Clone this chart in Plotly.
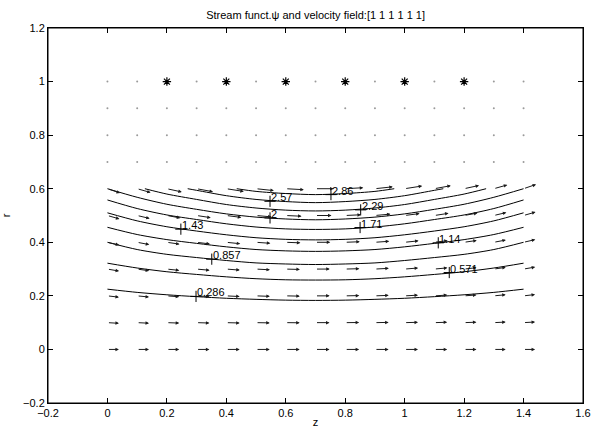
import plotly.graph_objects as go

# ---------------- data ----------------
z_grid = [0.0, 0.1, 0.2, 0.3, 0.4, 0.5, 0.6, 0.7, 0.8, 0.9, 1.0, 1.1, 1.2, 1.3, 1.4]
r_arrow_rows = [0.0, 0.1, 0.2, 0.3, 0.4, 0.5, 0.6]
r_dot_rows = [0.7, 0.8, 0.9, 1.0]

# velocity components (arbitrary units) per row r=0..0.6, columns z=0..1.4
U_rows = [
    [1.00, 1.03, 1.07, 1.11, 1.16, 1.19, 1.21, 1.22, 1.21, 1.19, 1.16, 1.11, 1.07, 1.03, 1.00],
    [1.00, 1.03, 1.07, 1.11, 1.16, 1.19, 1.21, 1.22, 1.21, 1.19, 1.16, 1.11, 1.07, 1.03, 1.00],
    [1.00, 1.03, 1.07, 1.12, 1.16, 1.20, 1.22, 1.23, 1.22, 1.20, 1.16, 1.12, 1.07, 1.03, 1.00],
    [1.01, 1.04, 1.08, 1.13, 1.17, 1.21, 1.23, 1.24, 1.23, 1.21, 1.17, 1.13, 1.08, 1.04, 1.01],
    [1.02, 1.05, 1.10, 1.16, 1.21, 1.24, 1.27, 1.28, 1.27, 1.24, 1.21, 1.16, 1.10, 1.05, 1.02],
    [1.04, 1.09, 1.16, 1.23, 1.30, 1.35, 1.37, 1.39, 1.37, 1.35, 1.30, 1.23, 1.16, 1.09, 1.04],
    [1.09, 1.17, 1.30, 1.43, 1.52, 1.55, 1.57, 1.57, 1.57, 1.55, 1.52, 1.43, 1.30, 1.17, 1.09],
]
V_rows = [
    [0, 0, 0, 0, 0, 0, 0, 0, 0, 0, 0, 0, 0, 0, 0],
    [-0.064, -0.054, -0.043, -0.038, -0.033, -0.024, -0.013, 0, 0.013, 0.024, 0.033, 0.038, 0.043, 0.054, 0.064],
    [-0.127, -0.108, -0.087, -0.076, -0.067, -0.048, -0.026, 0, 0.026, 0.048, 0.067, 0.076, 0.087, 0.108, 0.127],
    [-0.193, -0.163, -0.131, -0.116, -0.101, -0.071, -0.038, 0, 0.038, 0.071, 0.101, 0.116, 0.131, 0.163, 0.193],
    [-0.259, -0.221, -0.178, -0.159, -0.139, -0.098, -0.053, 0, 0.053, 0.098, 0.139, 0.159, 0.178, 0.221, 0.259],
    [-0.331, -0.286, -0.234, -0.210, -0.187, -0.134, -0.071, 0, 0.071, 0.134, 0.187, 0.210, 0.234, 0.286, 0.331],
    [-0.416, -0.367, -0.315, -0.293, -0.263, -0.184, -0.097, 0, 0.097, 0.184, 0.263, 0.293, 0.315, 0.367, 0.416],
]

# vortex ring positions (asterisks)
ring_z = [0.2, 0.4, 0.6, 0.8, 1.0, 1.2]
ring_r = [1, 1, 1, 1, 1, 1]

# stream function contour lines: (z, r) samples for each level
c_z_full = z_grid
c0_r = [0.225, 0.213, 0.204, 0.197, 0.191, 0.187, 0.184, 0.183, 0.184, 0.187, 0.191, 0.197, 0.204, 0.213, 0.225]
c1_r = [0.322, 0.304, 0.290, 0.280, 0.271, 0.264, 0.260, 0.259, 0.260, 0.264, 0.271, 0.280, 0.290, 0.304, 0.322]
c2_r = [0.400, 0.373, 0.355, 0.343, 0.332, 0.323, 0.319, 0.317, 0.319, 0.323, 0.332, 0.343, 0.355, 0.373, 0.400]
c3_r = [0.456, 0.429, 0.410, 0.396, 0.383, 0.373, 0.368, 0.366, 0.368, 0.373, 0.383, 0.396, 0.410, 0.429, 0.456]
c4_r = [0.510, 0.480, 0.458, 0.442, 0.428, 0.417, 0.411, 0.409, 0.411, 0.417, 0.428, 0.442, 0.458, 0.480, 0.510]
c5_r = [0.558, 0.526, 0.502, 0.485, 0.469, 0.457, 0.450, 0.448, 0.450, 0.457, 0.469, 0.485, 0.502, 0.526, 0.558]
c6_r = [0.600, 0.568, 0.542, 0.523, 0.506, 0.494, 0.487, 0.484, 0.487, 0.494, 0.506, 0.523, 0.542, 0.568, 0.600]
c7_z = [0.126, 0.2, 0.3, 0.4, 0.5, 0.6, 0.7, 0.8, 0.9, 1.0, 1.1, 1.2, 1.274]
c7_r = [0.600, 0.580, 0.560, 0.541, 0.528, 0.520, 0.517, 0.520, 0.528, 0.541, 0.560, 0.580, 0.600]
c8_z = [0.27, 0.3, 0.4, 0.5, 0.6, 0.7, 0.8, 0.9, 1.0, 1.1, 1.13]
c8_r = [0.600, 0.594, 0.574, 0.560, 0.552, 0.548, 0.552, 0.560, 0.574, 0.594, 0.600]
c9_z = [0.435, 0.5, 0.6, 0.7, 0.8, 0.9, 0.965]
c9_r = [0.600, 0.590, 0.582, 0.578, 0.582, 0.590, 0.600]
contour_lines = [
    (c_z_full, c0_r), (c_z_full, c1_r), (c_z_full, c2_r), (c_z_full, c3_r),
    (c_z_full, c4_r), (c_z_full, c5_r), (c_z_full, c6_r),
    (c7_z, c7_r), (c8_z, c8_r), (c9_z, c9_r),
]

# contour label positions
label_text = ["0.286", "0.571", "0.857", "1.14", "1.43", "1.71", "2", "2.29", "2.57", "2.86"]
label_z = [0.298, 1.15, 0.351, 1.113, 0.247, 0.85, 0.547, 0.852, 0.547, 0.752]
label_r = [0.198, 0.287, 0.337, 0.398, 0.449, 0.455, 0.491, 0.521, 0.553, 0.578]

title_text = "Stream funct.\u03c8 and velocity field:[1 1 1 1 1 1]"
x_ticks = [-0.2, 0, 0.2, 0.4, 0.6, 0.8, 1, 1.2, 1.4, 1.6]
y_ticks = [-0.2, 0, 0.2, 0.4, 0.6, 0.8, 1, 1.2]

# ---------------- figure ----------------
FONT = "Liberation Sans, Arial, Helvetica, sans-serif"
arrow_scale = 0.0387

fig = go.Figure()

# contour lines
for zs, rs in contour_lines:
    fig.add_trace(go.Scatter(x=zs, y=rs, mode="lines",
                             line=dict(color="black", width=1, shape="spline", smoothing=0.8),
                             hoverinfo="skip", showlegend=False))

# zero-velocity grid points (dots)
dz, dr = [], []
for r in r_dot_rows:
    for z in z_grid:
        dz.append(z)
        dr.append(r)
fig.add_trace(go.Scatter(x=dz, y=dr, mode="markers",
                         marker=dict(size=2, color="#9a9a9a"),
                         hoverinfo="skip", showlegend=False))

# vortex rings
fig.add_trace(go.Scatter(x=ring_z, y=ring_r, mode="markers",
                         marker=dict(symbol="asterisk-open", size=7, color="black",
                                     line=dict(color="black", width=1.2)),
                         hoverinfo="skip", showlegend=False))

# contour label crosses
fig.add_trace(go.Scatter(x=label_z, y=label_r, mode="markers",
                         marker=dict(symbol="cross-thin-open", size=8, color="black",
                                     line=dict(color="black", width=1)),
                         hoverinfo="skip", showlegend=False))

annotations = []
# velocity arrows
for i, r in enumerate(r_arrow_rows):
    for j, z in enumerate(z_grid):
        u = U_rows[i][j] * arrow_scale
        v = V_rows[i][j] * arrow_scale
        annotations.append(dict(
            x=z + u, y=r + v, ax=z, ay=r,
            xref="x", yref="y", axref="x", ayref="y",
            text="", showarrow=True, arrowhead=2, arrowsize=0.7,
            arrowwidth=1, arrowcolor="#1a1a1a", standoff=0, startstandoff=0))

# contour labels
for t, z, r in zip(label_text, label_z, label_r):
    annotations.append(dict(
        x=z, y=r, xref="x", yref="y", text=t, showarrow=False,
        xanchor="left", yanchor="bottom", xshift=-1, yshift=-4,
        font=dict(family=FONT, size=11, color="black")))

fig.update_layout(
    width=591, height=428,
    margin=dict(l=48, r=8, t=28, b=25),
    paper_bgcolor="white", plot_bgcolor="white",
    font=dict(family=FONT, size=11, color="black"),
    title=dict(text=title_text, x=0.534, xanchor="center", y=0.965, yanchor="middle",
               font=dict(family=FONT, size=11, color="black")),
    annotations=annotations,
    showlegend=False,
    shapes=[dict(type="rect", xref="paper", yref="paper", x0=0, y0=0, x1=1, y1=1,
                 line=dict(color="black", width=1), fillcolor="rgba(0,0,0,0)", layer="above")],
)
fig.update_xaxes(range=[-0.2, 1.6], tickvals=x_ticks, ticktext=[("\u22120.2" if v < 0 else f"{v:g}") for v in x_ticks],
                 ticks="inside", ticklen=5, tickcolor="black", showline=True, linecolor="black",
                 linewidth=1, mirror="ticks", showgrid=False, zeroline=False, automargin=False,
                 title=dict(text="z", standoff=0, font=dict(size=11)))
fig.update_yaxes(range=[-0.2, 1.2], tickvals=y_ticks, ticktext=[("\u22120.2" if v < 0 else f"{v:g}") for v in y_ticks],
                 ticks="inside", ticklen=5, tickcolor="black", showline=True, linecolor="black",
                 linewidth=1, mirror="ticks", showgrid=False, zeroline=False, automargin=False,
                 title=dict(text="r", standoff=14, font=dict(size=11)))

fig.write_html("out.html", config={"displayModeBar": False},
               post_script="document.body.style.margin='0';document.body.style.overflow='hidden';")
